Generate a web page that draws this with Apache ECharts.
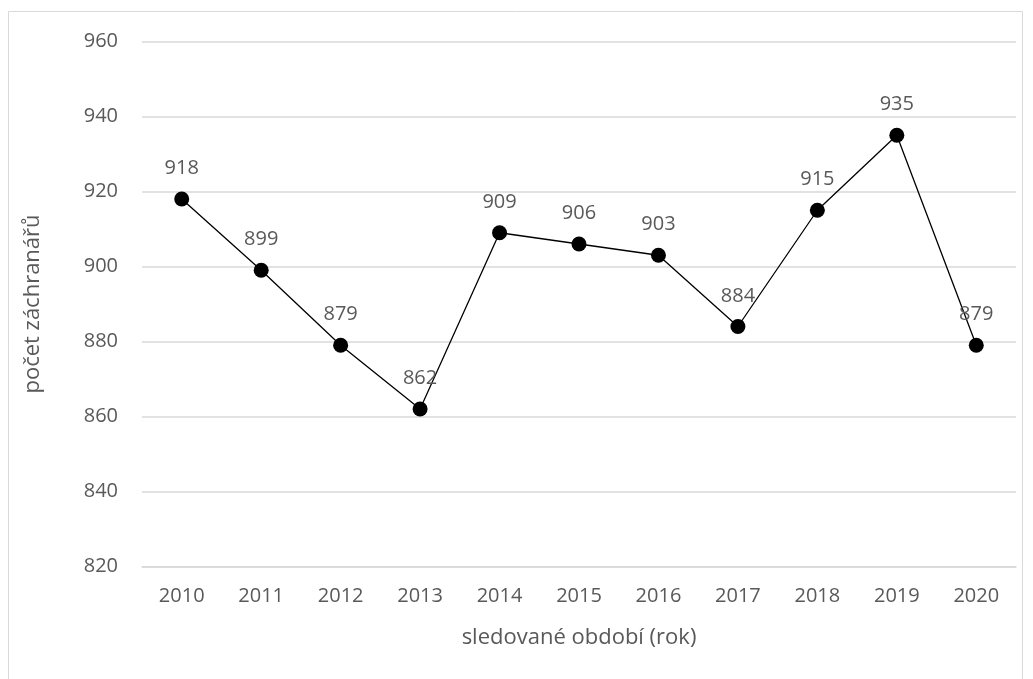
<!DOCTYPE html>
<html>
<head>
<meta charset="utf-8">
<script src="https://cdn.jsdelivr.net/npm/echarts@6/dist/echarts.min.js"></script>
<style>
  html, body { margin: 0; padding: 0; background: #fff; }
  #container { width: 1033px; height: 679px; }
</style>
</head>
<body>
<div id="container"></div>
<script>
// data
var years = ['2010', '2011', '2012', '2013', '2014', '2015', '2016', '2017', '2018', '2019', '2020'];
var rescuers = [918, 899, 879, 862, 909, 906, 903, 884, 915, 935, 879];
var yTicks = [820, 960, 20]; // min, max, interval

var font = '"Open Sans", "DejaVu Sans", sans-serif';
var gray = '#595959';

var option = {
    animation: false,
    backgroundColor: '#fff',
    graphic: [{
        type: 'rect',
        shape: { x: 8.5, y: 11.5, width: 1014, height: 700 },
        style: { fill: 'none', stroke: '#d9d9d9', lineWidth: 1 }
    }],
    grid: {
        left: 142,
        right: 17,
        top: 41.5,
        height: 525,
        containLabel: false
    },
    xAxis: {
        type: 'category',
        data: years,
        boundaryGap: true,
        name: 'sledované období (rok)',
        nameLocation: 'middle',
        nameGap: 60,
        nameTextStyle: { color: gray, fontSize: 22, fontFamily: font },
        axisLine: { lineStyle: { color: '#d9d9d9', width: 1.5 } },
        axisTick: { show: false },
        axisLabel: { color: gray, fontSize: 20, fontFamily: font, margin: 20 }
    },
    yAxis: {
        type: 'value',
        min: yTicks[0],
        max: yTicks[1],
        interval: yTicks[2],
        name: 'počet záchranářů',
        nameLocation: 'middle',
        nameGap: 98,
        nameTextStyle: { color: gray, fontSize: 22, fontFamily: font },
        axisLine: { show: false },
        axisTick: { show: false },
        axisLabel: { color: gray, fontSize: 20, fontFamily: font, margin: 24 },
        splitLine: { lineStyle: { color: '#d9d9d9', width: 1.5 } }
    },
    series: [{
        type: 'line',
        data: rescuers,
        symbol: 'circle',
        symbolSize: 15,
        lineStyle: { color: '#000', width: 1.3 },
        itemStyle: { color: '#000' },
        label: {
            show: true,
            position: 'top',
            distance: 13,
            color: gray,
            fontSize: 20,
            fontFamily: font
        }
    }]
};

function draw() {
    var myChart = echarts.init(document.getElementById('container'));
    myChart.setOption(option);
}

window.addEventListener('load', draw, false);
</script>
</body>
</html>
